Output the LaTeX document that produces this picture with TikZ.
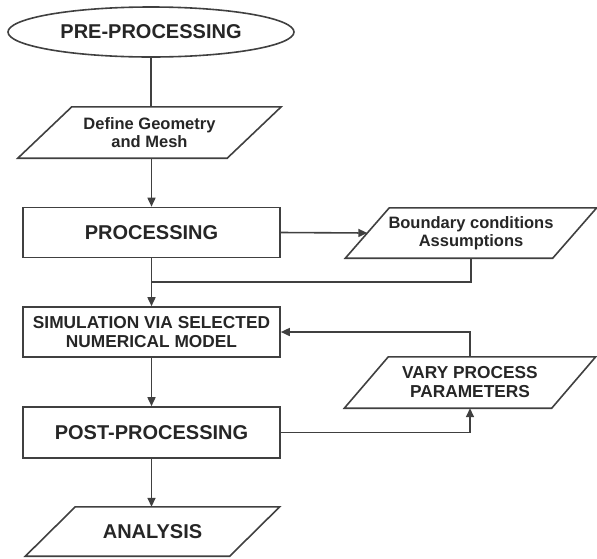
\documentclass[tikz,border=0pt]{standalone}
\usepackage{fontspec}
\setmainfont{Liberation Sans}
\usetikzlibrary{shapes.geometric,arrows.meta,calc}
\begin{document}
\begin{tikzpicture}[x=1pt,y=-1pt,
  line/.style={draw=black!75,line width=1.6pt},
  arr/.style={line,-{Triangle[length=9pt,width=8pt]}},
  bigtxt/.style={font=\fontsize{20}{24}\selectfont\bfseries,text=black!85},
  smalltxt/.style={font=\fontsize{16.5}{18.5}\selectfont\bfseries,text=black!85,align=center},
  captxt/.style={font=\fontsize{17.3}{19}\selectfont\bfseries,text=black!85,align=center},
  procbox/.style={line,rectangle,minimum width=257pt,minimum height=50pt,inner sep=0pt},
  para/.style={rectangle,inner sep=0pt},
]
\useasboundingbox (0,0) rectangle (597,558);

\node[line,ellipse,minimum width=286pt,minimum height=50pt,inner sep=0pt,bigtxt] (pre) at (151,32) {PRE-PROCESSING};

\node[para,minimum width=209pt,minimum height=51pt,smalltxt] (def) at (149.5,132.5) {Define Geometry\\and Mesh};
\draw[line] ([xshift=27pt]def.north west) -- ([xshift=27pt]def.north east) -- ([xshift=-27pt]def.south east) -- ([xshift=-27pt]def.south west) -- cycle;

\node[procbox,bigtxt] (proc) at (151.5,232.5) {PROCESSING};

\node[para,minimum width=207pt,minimum height=50pt,smalltxt] (bc) at (471,233) {Boundary conditions\\Assumptions};
\draw[line] ([xshift=22pt]bc.north west) -- ([xshift=22pt]bc.north east) -- ([xshift=-22pt]bc.south east) -- ([xshift=-22pt]bc.south west) -- cycle;

\node[procbox,captxt] (sim) at (151.5,332) {SIMULATION VIA SELECTED\\NUMERICAL MODEL};

\node[para,minimum width=207pt,minimum height=51pt,captxt] (vary) at (470,382.5) {VARY PROCESS\\PARAMETERS};
\draw[line] ([xshift=22pt]vary.north west) -- ([xshift=22pt]vary.north east) -- ([xshift=-22pt]vary.south east) -- ([xshift=-22pt]vary.south west) -- cycle;

\node[procbox,minimum height=51pt,bigtxt] (post) at (151.5,432.5) {POST-PROCESSING};

\node[para,minimum width=204pt,minimum height=49pt,bigtxt] (ana) at (152.5,531.5) {ANALYSIS};
\draw[line] ([xshift=25pt]ana.north west) -- ([xshift=25pt]ana.north east) -- ([xshift=-25pt]ana.south east) -- ([xshift=-25pt]ana.south west) -- cycle;

\coordinate (merge) at ($(proc.south)!0.5!(sim.north)$);

\draw[line] (pre.south) -- (pre.south |- def.north);
\draw[arr] (proc.north |- def.south) -- (proc.north);
\draw[arr] (proc.east) -- (bc.west);
\draw[line] (bc.south) |- (merge);
\draw[arr] (proc.south) -- (sim.north);
\draw[arr] (sim.south) -- (post.north);
\draw[arr] (vary.north) |- (sim.east);
\draw[arr] (post.east) -| (vary.south);
\draw[arr] (post.south) -- (post.south |- ana.north);
\end{tikzpicture}
\end{document}
